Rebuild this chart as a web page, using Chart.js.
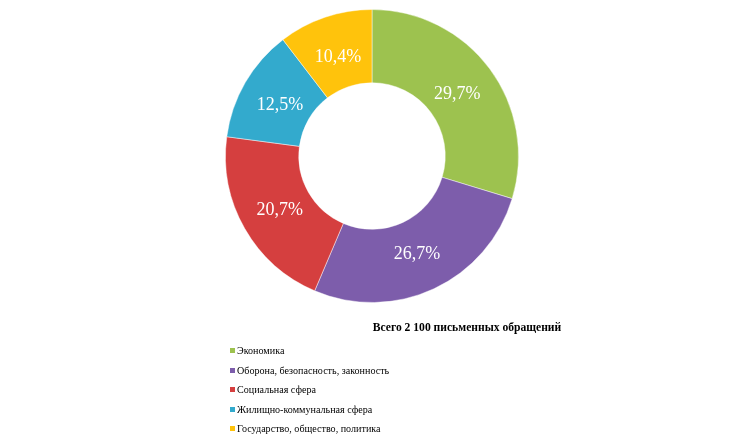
<!DOCTYPE html>
<html>
<head>
<meta charset="utf-8">
<script src="https://cdn.jsdelivr.net/npm/chart.js@4.4.1/dist/chart.umd.min.js"></script>
<style>
  html, body { margin: 0; padding: 0; background: #fff; }
  #wrap { position: relative; width: 735px; height: 441px; }
  #myChart { position: absolute; left: 0; top: 0; }
  #title {
    position: absolute; left: 367px; top: 321px; width: 200px; text-align: center;
    font: bold 11.6px "Liberation Serif", "DejaVu Serif", serif; color: #000; white-space: nowrap;
  }
  #legend { position: absolute; left: 230px; top: 345px; margin: 0; padding: 0; list-style: none; }
  #legend li {
    height: 19.5px; line-height: 19.5px;
    font: 10.1px "Liberation Serif", "DejaVu Serif", serif; color: #000; white-space: nowrap;
  }
  #legend li span.box {
    display: inline-block; width: 5px; height: 5px; margin-right: 2px; vertical-align: 1px;
  }
</style>
</head>
<body>
<div id="wrap">
  <canvas id="myChart" width="735" height="441"></canvas>
  <div id="title">Всего 2 100 письменных обращений</div>
  <ul id="legend"></ul>
</div>
<script>
// categories and shares (percent)
const labels = [
  'Экономика',
  'Оборона, безопасность, законность',
  'Социальная сфера',
  'Жилищно-коммунальная сфера',
  'Государство, общество, политика'
];
const values = [29.7, 26.7, 20.7, 12.5, 10.4];
const colors = ['#9dc24f', '#7d5dab', '#d53f3f', '#33aacd', '#ffc30c'];

// legend, built from the same arrays
var legendEl = document.getElementById('legend');
labels.forEach(function (name, i) {
  var li = document.createElement('li');
  var box = document.createElement('span');
  box.className = 'box';
  box.style.background = colors[i];
  li.appendChild(box);
  li.appendChild(document.createTextNode(name));
  legendEl.appendChild(li);
});

// percent labels inside each ring segment, a bit nearer the hole than the middle
const sliceLabels = {
  id: 'sliceLabels',
  afterDatasetsDraw(chart) {
    var ctx = chart.ctx;
    var meta = chart.getDatasetMeta(0);
    ctx.save();
    ctx.fillStyle = '#ffffff';
    ctx.font = '18px "Liberation Serif", "DejaVu Serif", serif';
    ctx.textAlign = 'center';
    ctx.textBaseline = 'middle';
    meta.data.forEach(function (arc, i) {
      var a = (arc.startAngle + arc.endAngle) / 2;
      var r = arc.innerRadius + 0.45 * (arc.outerRadius - arc.innerRadius);
      var x = arc.x + Math.cos(a) * r;
      var y = arc.y + Math.sin(a) * r + 2;
      ctx.fillText(values[i].toFixed(1).replace('.', ',') + '%', x, y);
    });
    ctx.restore();
  }
};

var ctx = document.getElementById('myChart').getContext('2d');
new Chart(ctx, {
  type: 'doughnut',
  data: {
    labels: labels,
    datasets: [{
      data: values,
      backgroundColor: colors,
      borderColor: 'rgba(255,255,255,0.45)',
      borderWidth: 1
    }]
  },
  options: {
    responsive: false,
    animation: false,
    cutout: '50%',
    layout: { padding: { left: 225, right: 216, top: 9, bottom: 138 } },
    plugins: {
      legend: { display: false },
      tooltip: { enabled: false }
    }
  },
  plugins: [sliceLabels]
});
</script>
</body>
</html>
